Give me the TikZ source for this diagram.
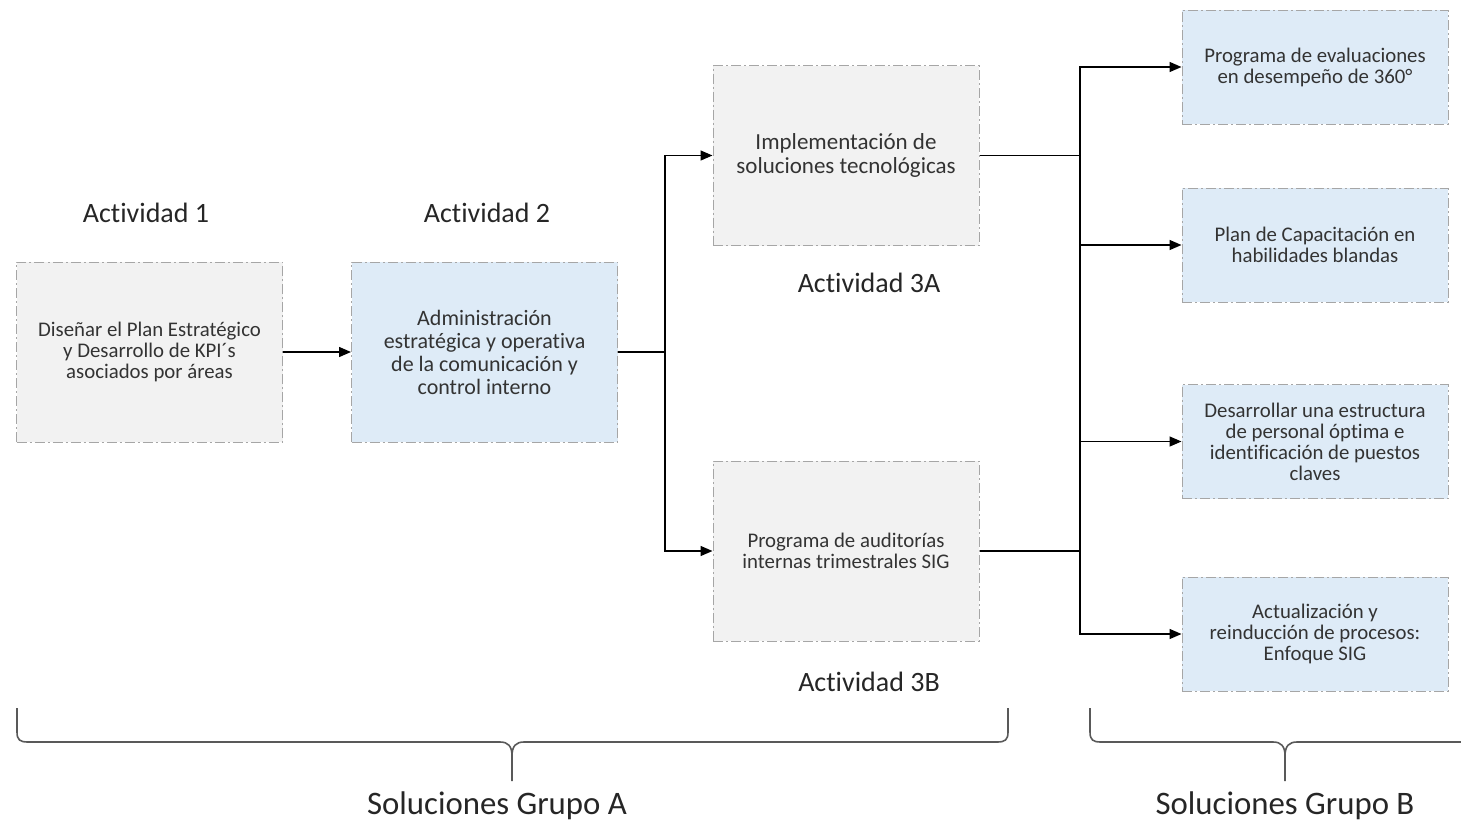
\documentclass[tikz,border=0pt]{standalone}
\usepackage{fontspec}
\setmainfont{Carlito}[Ligatures=NoCommon]
\usetikzlibrary{arrows.meta}
\definecolor{boxgray}{HTML}{F2F2F2}
\definecolor{boxblue}{HTML}{DEEBF7}
\definecolor{bordergray}{HTML}{A6A6A6}
\definecolor{txt}{HTML}{333333}
\definecolor{bracecol}{HTML}{595959}
\tikzset{
  box/.style={rectangle, draw=bordergray, line width=0.5pt,
    dash pattern=on 5pt off 1.5pt on 1pt off 1.5pt,
    minimum width=133pt, minimum height=90pt, align=center, text=txt, inner sep=2pt},
  sbox/.style={box, minimum height=57pt},
  gbox/.style={fill=boxgray},
  bbox/.style={fill=boxblue},
  fsmall/.style={font=\fontsize{10.4}{10.5}\selectfont},
  fmid/.style={font=\fontsize{11}{11.5}\selectfont},
  fbig/.style={font=\fontsize{11.5}{12}\selectfont},
  lab/.style={font=\fontsize{14}{16}\selectfont, text=black!85},
  glab/.style={font=\fontsize{16.4}{18}\selectfont, text=black!85},
  conn/.style={draw=black, line width=0.7pt},
  arr/.style={conn, -{Triangle[length=6pt,width=5pt]}},
  bracestyle/.style={draw=bracecol, line width=0.8pt}
}
\begin{document}
\begin{tikzpicture}[x=0.5pt,y=-0.5pt]
\useasboundingbox (0,0) rectangle (1461,825);
\clip (0,0) rectangle (1461,825);
% boxes
\node[box,gbox,fsmall] (b1) at (149.5,352) {Diseñar el Plan Estratégico\\y Desarrollo de KPI´s\\asociados por áreas};
\node[box,bbox,fmid] (b2) at (484.5,352) {Administración\\estratégica y operativa\\de la comunicación y\\control interno};
\node[box,gbox,fbig] (b3a) at (846,155.5) {Implementación de\\soluciones tecnológicas};
\node[box,gbox,fsmall] (b3b) at (846,551) {Programa de auditorías\\internas trimestrales SIG};
\node[sbox,bbox,fsmall] (r1) at (1315,67) {Programa de evaluaciones\\en desempeño de 360°};
\node[sbox,bbox,fsmall] (r2) at (1315,245) {Plan de Capacitación en\\habilidades blandas};
\node[sbox,bbox,fsmall] (r3) at (1315,441.5) {Desarrollar una estructura\\de personal óptima e\\identificación de puestos\\claves};
\node[sbox,bbox,fsmall] (r4) at (1315,634) {Actualización y\\reinducción de procesos:\\Enfoque SIG};
% labels
\node[lab] (l1) at (146,213) {Actividad 1};
\node[lab] (l2) at (487,213) {Actividad 2};
\node[lab] (l3a) at (869,283) {Actividad 3A};
\node[lab] (l3b) at (869,682) {Actividad 3B};
\node[glab] (ga) at (497,806) {Soluciones Grupo A};
\node[glab] (gb) at (1285,806) {Soluciones Grupo B};
% junctions
\coordinate (j1) at (665,352);
\coordinate (j2) at (1080,155.5);
\coordinate (j3) at (1080,551);
% connectors
\draw[arr] (b1.east) -- (b2.west);
\draw[conn] (b2.east) -- (j1);
\draw[arr] (j1) |- (b3a.west);
\draw[arr] (j1) |- (b3b.west);
\draw[conn] (b3a.east) -- (j2);
\draw[conn, line width=1pt] (b3b.east) -- (j3);
\draw[conn] (j2) -- (j3);
\draw[arr] (j2) |- (r1.west);
\draw[arr] (j2) |- (r2.west);
\draw[arr] (j3) |- (r3.west);
\draw[arr] (j3) |- (r4.west);
% braces
\draw[bracestyle] (17,708) -- (17,732) .. controls (17,740) and (20,742) .. (28,742) -- (500,742) .. controls (508,742) and (512,746) .. (512,756) -- (512,781);
\draw[bracestyle] (512,756) .. controls (512,746) and (516,742) .. (524,742) -- (997,742) .. controls (1005,742) and (1008,740) .. (1008,732) -- (1008,708);
\draw[bracestyle] (1090,708) -- (1090,732) .. controls (1090,740) and (1093,742) .. (1101,742) -- (1273,742) .. controls (1281,742) and (1285,746) .. (1285,756) -- (1285,781);
\draw[bracestyle] (1285,756) .. controls (1285,746) and (1289,742) .. (1297,742) -- (1469,742) .. controls (1477,742) and (1480,740) .. (1480,732) -- (1480,708);
\end{tikzpicture}
\end{document}
